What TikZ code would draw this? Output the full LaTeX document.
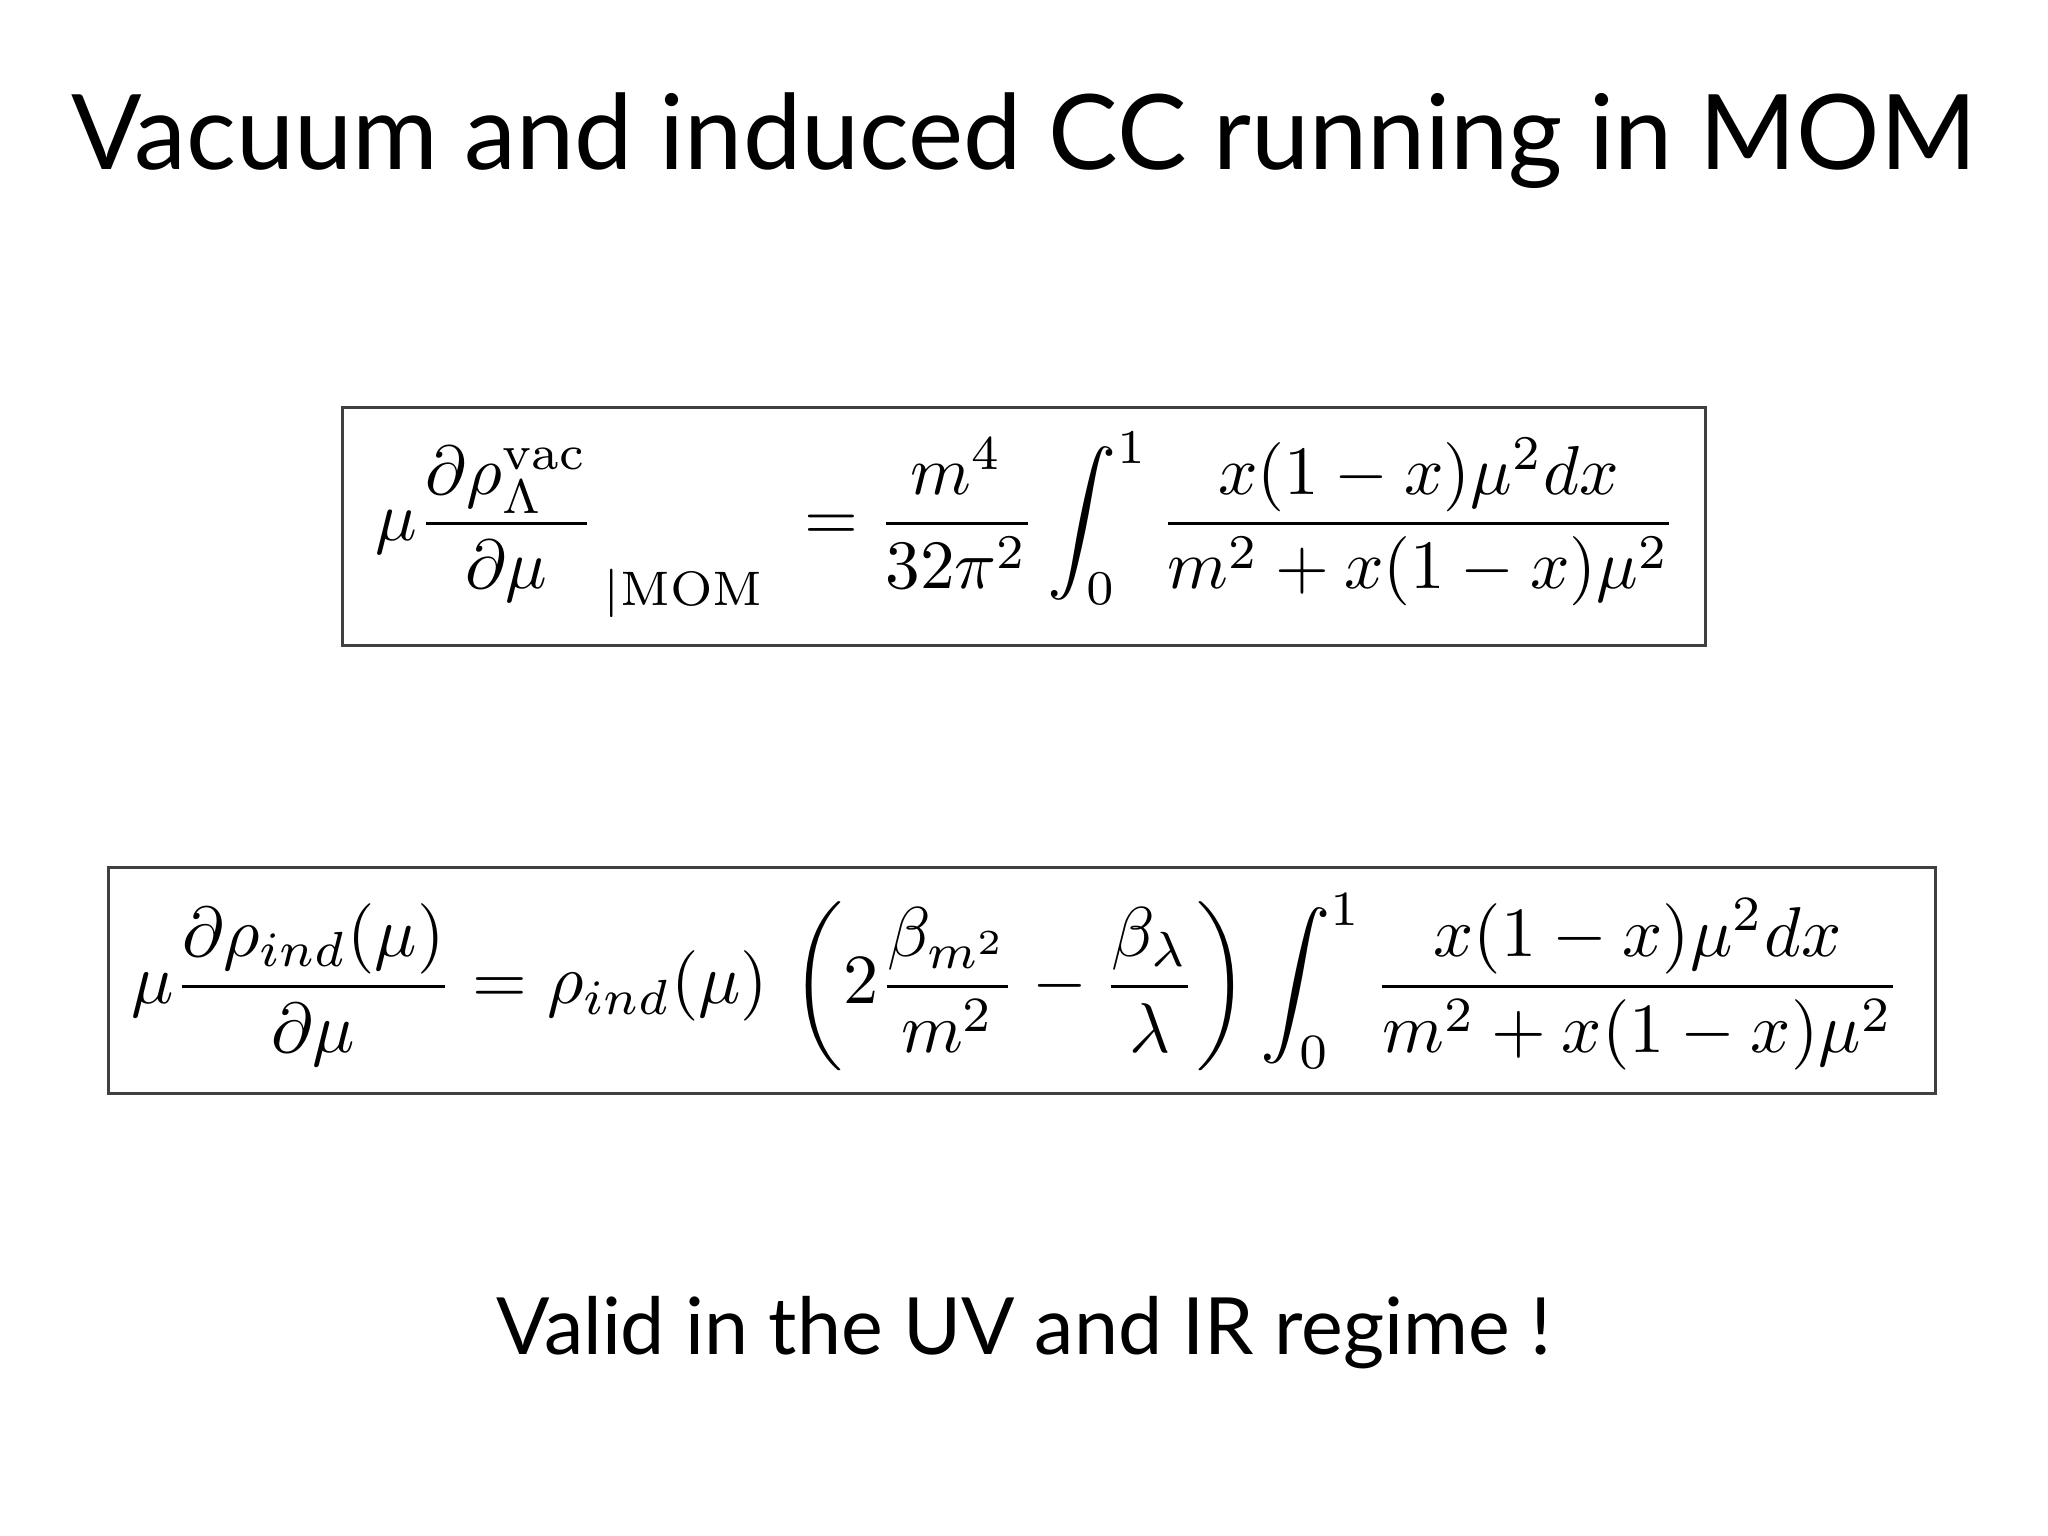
\documentclass[tikz,border=0pt]{standalone}
\usepackage{amsmath}
\usepackage{graphicx}
\usepackage{fontspec}
\setsansfont{Lato}
\begin{document}
\begin{tikzpicture}[x=0.01306cm,y=-0.01306cm,
  eqbox/.style={draw=black!75,line width=0.9pt},
  lbl/.style={inner sep=0pt,font=\sffamily}]
\useasboundingbox (0,0) rectangle (1568,1176);
\node[lbl] (title) at (784,108) {\resizebox{19.05cm}{!}{Vacuum and induced CC running in MOM}};
\draw[eqbox] (262,312) rectangle (1306,494);
\node[inner sep=0pt] (eq1) at (783,402) {\resizebox{13.1cm}{!}{$\displaystyle \left.\mu\frac{\partial\rho_\Lambda^{\rm vac}}{\partial\mu}\right._{|\rm MOM}\;=\frac{m^4}{32\pi^2}\int_0^1\frac{x(1-x)\mu^2dx}{m^2+x(1-x)\mu^2}$}};
\draw[eqbox] (83,664) rectangle (1482,837);
\node[inner sep=0pt] (eq2) at (778,752) {\resizebox{17.7cm}{!}{$\displaystyle \mu\frac{\partial\rho_{ind}(\mu)}{\partial\mu}=\rho_{ind}(\mu)\,\left(2\frac{\beta_{m^2}}{m^2}-\frac{\beta_\lambda}{\lambda}\right)\int_0^1\frac{x(1-x)\mu^2dx}{m^2+x(1-x)\mu^2}$}};
\node[lbl] (note) at (784,1020) {\resizebox{10.55cm}{!}{Valid in the UV and IR regime !}};
\end{tikzpicture}
\end{document}
